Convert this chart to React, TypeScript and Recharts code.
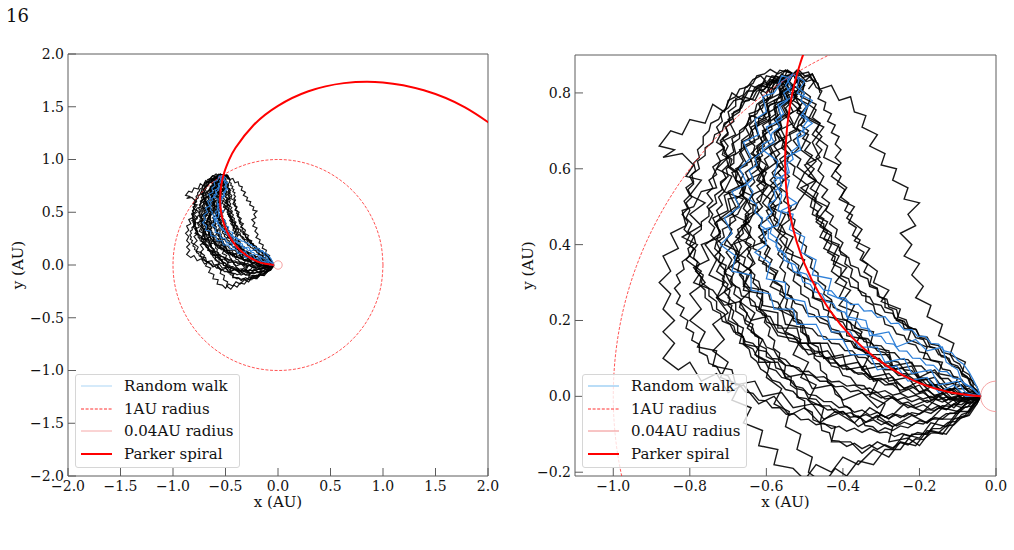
import React from "react";
import { ScatterChart, Scatter, XAxis, YAxis, ReferenceArea, Legend } from "recharts";

type Pt = [number, number];

// Black random-walk traces between the 1 AU footpoint and the 0.04 AU inner boundary
const walk01: Pt[] = [[-0.53,0.85],[-0.55,0.82],[-0.58,0.84],[-0.60,0.80],[-0.64,0.82],[-0.66,0.78],[-0.69,0.80],[-0.71,0.75],[-0.74,0.77],[-0.76,0.72],[-0.80,0.73],[-0.82,0.69],[-0.85,0.70],[-0.88,0.66],[-0.84,0.65],[-0.87,0.63],[-0.82,0.64],[-0.79,0.61],[-0.81,0.58],[-0.77,0.57],[-0.80,0.53],[-0.76,0.51],[-0.80,0.48],[-0.77,0.45],[-0.82,0.42],[-0.78,0.40],[-0.81,0.36],[-0.77,0.33],[-0.79,0.30],[-0.74,0.28],[-0.71,0.24],[-0.67,0.25],[-0.64,0.20],[-0.60,0.21],[-0.57,0.16],[-0.52,0.15],[-0.49,0.11],[-0.44,0.12],[-0.41,0.08],[-0.36,0.09],[-0.33,0.05],[-0.28,0.06],[-0.24,0.02],[-0.20,0.04],[-0.16,0.00],[-0.12,0.02],[-0.08,-0.01],[-0.04,0.00]];
const walk02: Pt[] = [[-0.53,0.85],[-0.56,0.81],[-0.55,0.78],[-0.59,0.77],[-0.61,0.73],[-0.64,0.74],[-0.66,0.70],[-0.69,0.68],[-0.68,0.64],[-0.72,0.62],[-0.74,0.58],[-0.73,0.55],[-0.77,0.54],[-0.79,0.50],[-0.82,0.49],[-0.81,0.45],[-0.85,0.43],[-0.83,0.39],[-0.87,0.37],[-0.85,0.33],[-0.88,0.30],[-0.85,0.27],[-0.87,0.23],[-0.84,0.20],[-0.87,0.17],[-0.84,0.14],[-0.87,0.10],[-0.83,0.07],[-0.80,0.09],[-0.77,0.04],[-0.73,0.06],[-0.70,0.01],[-0.66,0.03],[-0.62,-0.02],[-0.58,0.00],[-0.54,-0.05],[-0.50,-0.03],[-0.46,-0.07],[-0.42,-0.04],[-0.37,-0.07],[-0.33,-0.03],[-0.28,-0.06],[-0.24,-0.02],[-0.19,-0.04],[-0.15,0.00],[-0.11,-0.03],[-0.07,0.01],[-0.04,0.00]];
const walk03: Pt[] = [[-0.53,0.85],[-0.51,0.81],[-0.55,0.79],[-0.53,0.75],[-0.57,0.72],[-0.55,0.68],[-0.59,0.66],[-0.57,0.62],[-0.61,0.59],[-0.60,0.55],[-0.64,0.53],[-0.62,0.49],[-0.66,0.46],[-0.64,0.42],[-0.69,0.40],[-0.67,0.36],[-0.71,0.33],[-0.69,0.29],[-0.73,0.26],[-0.70,0.22],[-0.74,0.19],[-0.71,0.15],[-0.74,0.12],[-0.70,0.09],[-0.72,0.05],[-0.67,0.03],[-0.69,-0.01],[-0.64,-0.03],[-0.66,-0.07],[-0.61,-0.09],[-0.62,-0.13],[-0.57,-0.14],[-0.58,-0.18],[-0.53,-0.19],[-0.50,-0.22],[-0.47,-0.18],[-0.43,-0.20],[-0.40,-0.16],[-0.36,-0.18],[-0.32,-0.14],[-0.28,-0.16],[-0.25,-0.12],[-0.21,-0.13],[-0.18,-0.09],[-0.14,-0.10],[-0.11,-0.06],[-0.08,-0.05],[-0.06,-0.02],[-0.04,0.00]];
const walk04: Pt[] = [[-0.53,0.85],[-0.50,0.83],[-0.48,0.85],[-0.46,0.81],[-0.43,0.82],[-0.41,0.78],[-0.38,0.79],[-0.37,0.75],[-0.34,0.74],[-0.35,0.71],[-0.31,0.69],[-0.33,0.66],[-0.29,0.64],[-0.30,0.61],[-0.26,0.60],[-0.27,0.57],[-0.23,0.55],[-0.24,0.52],[-0.20,0.51],[-0.23,0.48],[-0.21,0.45],[-0.25,0.43],[-0.22,0.40],[-0.24,0.37],[-0.20,0.35],[-0.22,0.32],[-0.19,0.29],[-0.21,0.26],[-0.17,0.24],[-0.18,0.21],[-0.14,0.19],[-0.15,0.16],[-0.11,0.14],[-0.12,0.11],[-0.08,0.09],[-0.09,0.06],[-0.06,0.04],[-0.06,0.01],[-0.04,0.00]];
const walk05: Pt[] = [[-0.53,0.85],[-0.51,0.82],[-0.53,0.79],[-0.49,0.77],[-0.50,0.74],[-0.46,0.72],[-0.48,0.69],[-0.44,0.66],[-0.45,0.63],[-0.41,0.61],[-0.43,0.58],[-0.39,0.55],[-0.41,0.52],[-0.37,0.50],[-0.39,0.47],[-0.35,0.44],[-0.37,0.41],[-0.33,0.39],[-0.35,0.36],[-0.31,0.33],[-0.32,0.30],[-0.28,0.28],[-0.30,0.25],[-0.25,0.23],[-0.26,0.20],[-0.22,0.18],[-0.23,0.15],[-0.18,0.13],[-0.19,0.10],[-0.14,0.09],[-0.15,0.06],[-0.10,0.05],[-0.11,0.02],[-0.07,0.02],[-0.04,0.00]];
const walk06: Pt[] = [[-0.53,0.85],[-0.57,0.83],[-0.56,0.80],[-0.60,0.78],[-0.59,0.74],[-0.63,0.72],[-0.62,0.68],[-0.66,0.66],[-0.64,0.62],[-0.68,0.60],[-0.66,0.56],[-0.70,0.54],[-0.68,0.50],[-0.72,0.47],[-0.69,0.44],[-0.71,0.40],[-0.67,0.38],[-0.69,0.34],[-0.65,0.32],[-0.66,0.28],[-0.61,0.27],[-0.62,0.23],[-0.57,0.22],[-0.57,0.18],[-0.52,0.18],[-0.51,0.14],[-0.46,0.14],[-0.45,0.10],[-0.40,0.11],[-0.39,0.07],[-0.34,0.08],[-0.32,0.04],[-0.27,0.05],[-0.25,0.01],[-0.20,0.03],[-0.17,-0.01],[-0.13,0.01],[-0.10,-0.02],[-0.07,0.01],[-0.04,0.00]];
const walk07: Pt[] = [[-0.53,0.85],[-0.55,0.81],[-0.52,0.79],[-0.55,0.76],[-0.53,0.72],[-0.57,0.70],[-0.55,0.66],[-0.59,0.64],[-0.56,0.60],[-0.59,0.57],[-0.56,0.54],[-0.59,0.50],[-0.55,0.48],[-0.57,0.44],[-0.53,0.42],[-0.55,0.38],[-0.50,0.36],[-0.52,0.32],[-0.47,0.30],[-0.48,0.26],[-0.43,0.25],[-0.44,0.21],[-0.39,0.20],[-0.39,0.16],[-0.34,0.15],[-0.33,0.11],[-0.28,0.11],[-0.27,0.07],[-0.22,0.08],[-0.20,0.04],[-0.16,0.05],[-0.13,0.01],[-0.09,0.03],[-0.06,0.00],[-0.04,0.00]];
const walk08: Pt[] = [[-0.53,0.85],[-0.56,0.82],[-0.54,0.78],[-0.58,0.76],[-0.57,0.72],[-0.61,0.70],[-0.59,0.66],[-0.63,0.63],[-0.61,0.59],[-0.65,0.57],[-0.66,0.53],[-0.70,0.52],[-0.69,0.48],[-0.73,0.46],[-0.72,0.42],[-0.77,0.40],[-0.75,0.36],[-0.79,0.34],[-0.76,0.30],[-0.80,0.27],[-0.77,0.23],[-0.80,0.20],[-0.76,0.17],[-0.78,0.13],[-0.73,0.12],[-0.74,0.08],[-0.69,0.07],[-0.68,0.03],[-0.63,0.04],[-0.61,0.00],[-0.56,0.01],[-0.53,-0.03],[-0.48,-0.02],[-0.45,-0.06],[-0.40,-0.04],[-0.36,-0.08],[-0.31,-0.05],[-0.27,-0.08],[-0.22,-0.05],[-0.18,-0.07],[-0.14,-0.03],[-0.10,-0.04],[-0.07,-0.01],[-0.04,0.00]];
const walk09: Pt[] = [[-0.53,0.85],[-0.50,0.82],[-0.53,0.80],[-0.51,0.76],[-0.55,0.74],[-0.52,0.70],[-0.56,0.68],[-0.53,0.64],[-0.57,0.61],[-0.54,0.58],[-0.58,0.55],[-0.56,0.51],[-0.60,0.49],[-0.58,0.45],[-0.62,0.42],[-0.59,0.39],[-0.61,0.35],[-0.57,0.33],[-0.59,0.29],[-0.55,0.27],[-0.57,0.23],[-0.53,0.21],[-0.55,0.17],[-0.51,0.15],[-0.53,0.11],[-0.49,0.09],[-0.51,0.05],[-0.47,0.03],[-0.49,-0.01],[-0.45,-0.03],[-0.46,-0.07],[-0.42,-0.08],[-0.43,-0.12],[-0.38,-0.12],[-0.35,-0.15],[-0.31,-0.12],[-0.27,-0.14],[-0.24,-0.10],[-0.20,-0.11],[-0.17,-0.07],[-0.13,-0.08],[-0.10,-0.04],[-0.07,-0.04],[-0.04,0.00]];
const walk10: Pt[] = [[-0.53,0.85],[-0.56,0.84],[-0.58,0.81],[-0.61,0.82],[-0.63,0.78],[-0.66,0.79],[-0.67,0.75],[-0.70,0.73],[-0.68,0.69],[-0.72,0.67],[-0.70,0.63],[-0.73,0.60],[-0.69,0.58],[-0.71,0.54],[-0.66,0.52],[-0.69,0.48],[-0.65,0.46],[-0.68,0.42],[-0.64,0.40],[-0.68,0.36],[-0.64,0.33],[-0.66,0.29],[-0.61,0.28],[-0.61,0.24],[-0.56,0.23],[-0.55,0.19],[-0.50,0.18],[-0.49,0.14],[-0.44,0.14],[-0.42,0.10],[-0.37,0.11],[-0.35,0.07],[-0.30,0.08],[-0.28,0.04],[-0.23,0.05],[-0.20,0.01],[-0.16,0.03],[-0.12,-0.01],[-0.08,0.01],[-0.04,0.00]];
const walk11: Pt[] = [[-0.53,0.85],[-0.50,0.83],[-0.51,0.79],[-0.47,0.77],[-0.49,0.73],[-0.45,0.71],[-0.48,0.67],[-0.46,0.63],[-0.50,0.61],[-0.47,0.57],[-0.51,0.55],[-0.47,0.52],[-0.48,0.48],[-0.44,0.46],[-0.46,0.42],[-0.41,0.40],[-0.43,0.36],[-0.39,0.34],[-0.42,0.30],[-0.38,0.28],[-0.41,0.24],[-0.36,0.22],[-0.37,0.18],[-0.32,0.17],[-0.33,0.13],[-0.28,0.12],[-0.27,0.08],[-0.22,0.09],[-0.20,0.05],[-0.16,0.07],[-0.13,0.03],[-0.09,0.04],[-0.07,0.01],[-0.04,0.00]];
const walk12: Pt[] = [[-0.53,0.85],[-0.55,0.82],[-0.58,0.83],[-0.59,0.79],[-0.62,0.77],[-0.60,0.73],[-0.64,0.71],[-0.63,0.67],[-0.67,0.65],[-0.65,0.61],[-0.69,0.59],[-0.67,0.55],[-0.71,0.53],[-0.70,0.49],[-0.74,0.47],[-0.72,0.43],[-0.76,0.40],[-0.73,0.36],[-0.75,0.32],[-0.71,0.30],[-0.73,0.26],[-0.69,0.24],[-0.70,0.20],[-0.66,0.18],[-0.67,0.14],[-0.62,0.13],[-0.62,0.09],[-0.57,0.09],[-0.55,0.05],[-0.50,0.06],[-0.48,0.02],[-0.43,0.03],[-0.40,-0.01],[-0.35,0.01],[-0.31,-0.03],[-0.27,0.00],[-0.23,-0.03],[-0.18,-0.01],[-0.14,-0.03],[-0.10,0.00],[-0.07,-0.02],[-0.04,0.00]];
const walk13: Pt[] = [[-0.53,0.85],[-0.51,0.81],[-0.54,0.78],[-0.51,0.75],[-0.53,0.71],[-0.49,0.69],[-0.51,0.65],[-0.47,0.62],[-0.50,0.59],[-0.46,0.56],[-0.48,0.52],[-0.44,0.50],[-0.47,0.46],[-0.43,0.43],[-0.45,0.39],[-0.41,0.37],[-0.43,0.33],[-0.39,0.30],[-0.41,0.26],[-0.37,0.24],[-0.39,0.20],[-0.35,0.17],[-0.37,0.13],[-0.33,0.11],[-0.35,0.07],[-0.31,0.04],[-0.33,0.00],[-0.29,-0.02],[-0.31,-0.06],[-0.27,-0.08],[-0.28,-0.12],[-0.23,-0.11],[-0.20,-0.13],[-0.17,-0.09],[-0.13,-0.10],[-0.10,-0.06],[-0.07,-0.05],[-0.05,-0.02],[-0.04,0.00]];
const walk14: Pt[] = [[-0.53,0.85],[-0.57,0.82],[-0.56,0.79],[-0.60,0.77],[-0.59,0.73],[-0.63,0.71],[-0.61,0.67],[-0.64,0.64],[-0.60,0.61],[-0.62,0.57],[-0.58,0.55],[-0.61,0.51],[-0.58,0.48],[-0.62,0.45],[-0.60,0.41],[-0.65,0.39],[-0.63,0.35],[-0.67,0.32],[-0.64,0.28],[-0.67,0.25],[-0.63,0.22],[-0.65,0.18],[-0.61,0.15],[-0.63,0.11],[-0.59,0.09],[-0.60,0.05],[-0.56,0.02],[-0.58,-0.02],[-0.54,-0.04],[-0.55,-0.08],[-0.51,-0.10],[-0.52,-0.14],[-0.48,-0.16],[-0.49,-0.20],[-0.45,-0.23],[-0.42,-0.19],[-0.39,-0.21],[-0.36,-0.17],[-0.32,-0.18],[-0.29,-0.14],[-0.25,-0.14],[-0.22,-0.10],[-0.18,-0.10],[-0.15,-0.06],[-0.11,-0.06],[-0.08,-0.02],[-0.04,0.00]];

// Finer-step walks filling the dense core of the band; several start across the rounded cap
const walk15: Pt[] = [[-0.64,0.79],[-0.63,0.815],[-0.61,0.825],[-0.60,0.845],[-0.58,0.84],[-0.565,0.86],[-0.545,0.855],[-0.53,0.85],[-0.545,0.84],[-0.56,0.85],[-0.575,0.83],[-0.59,0.835],[-0.60,0.815],[-0.615,0.80],[-0.605,0.785],[-0.625,0.77],[-0.63,0.75],[-0.645,0.745],[-0.64,0.725],[-0.655,0.71],[-0.645,0.69],[-0.665,0.675],[-0.655,0.655],[-0.67,0.64],[-0.66,0.62],[-0.675,0.60],[-0.66,0.585],[-0.67,0.565],[-0.655,0.55],[-0.665,0.53],[-0.65,0.515],[-0.66,0.495],[-0.645,0.48],[-0.655,0.46],[-0.64,0.445],[-0.645,0.425],[-0.63,0.41],[-0.635,0.39],[-0.615,0.38],[-0.62,0.36],[-0.60,0.35],[-0.60,0.33],[-0.58,0.32],[-0.58,0.30],[-0.56,0.29],[-0.555,0.27],[-0.535,0.265],[-0.525,0.245],[-0.505,0.24],[-0.495,0.22],[-0.475,0.215],[-0.46,0.195],[-0.44,0.19],[-0.43,0.17],[-0.41,0.165],[-0.395,0.145],[-0.375,0.145],[-0.36,0.125],[-0.34,0.12],[-0.325,0.10],[-0.305,0.10],[-0.29,0.08],[-0.27,0.08],[-0.255,0.06],[-0.235,0.06],[-0.215,0.045],[-0.195,0.045],[-0.18,0.03],[-0.16,0.03],[-0.14,0.015],[-0.12,0.02],[-0.10,0.005],[-0.08,0.01],[-0.06,-0.005],[-0.04,0.00]];
const walk16: Pt[] = [[-0.46,0.80],[-0.465,0.825],[-0.48,0.835],[-0.49,0.855],[-0.51,0.85],[-0.53,0.85],[-0.515,0.835],[-0.53,0.82],[-0.51,0.805],[-0.525,0.79],[-0.505,0.775],[-0.52,0.755],[-0.50,0.745],[-0.515,0.725],[-0.52,0.705],[-0.54,0.695],[-0.535,0.675],[-0.555,0.66],[-0.545,0.64],[-0.565,0.625],[-0.555,0.605],[-0.57,0.59],[-0.555,0.57],[-0.565,0.55],[-0.545,0.535],[-0.555,0.515],[-0.535,0.50],[-0.545,0.48],[-0.525,0.465],[-0.53,0.445],[-0.51,0.43],[-0.515,0.41],[-0.495,0.395],[-0.50,0.375],[-0.48,0.36],[-0.485,0.34],[-0.465,0.325],[-0.465,0.305],[-0.445,0.29],[-0.45,0.27],[-0.43,0.255],[-0.425,0.235],[-0.405,0.225],[-0.40,0.205],[-0.38,0.195],[-0.375,0.175],[-0.355,0.165],[-0.345,0.145],[-0.325,0.14],[-0.31,0.12],[-0.29,0.115],[-0.275,0.095],[-0.255,0.09],[-0.24,0.07],[-0.22,0.068],[-0.205,0.05],[-0.185,0.048],[-0.17,0.03],[-0.15,0.03],[-0.13,0.015],[-0.11,0.018],[-0.09,0.003],[-0.07,0.008],[-0.055,-0.005],[-0.04,0.00]];
const walk17: Pt[] = [[-0.53,0.85],[-0.55,0.845],[-0.565,0.83],[-0.585,0.835],[-0.60,0.815],[-0.62,0.82],[-0.635,0.80],[-0.645,0.78],[-0.665,0.775],[-0.67,0.755],[-0.69,0.745],[-0.685,0.725],[-0.705,0.71],[-0.70,0.69],[-0.72,0.675],[-0.71,0.655],[-0.73,0.64],[-0.72,0.62],[-0.74,0.605],[-0.73,0.585],[-0.75,0.57],[-0.74,0.55],[-0.755,0.535],[-0.74,0.515],[-0.755,0.50],[-0.74,0.48],[-0.75,0.46],[-0.735,0.445],[-0.745,0.425],[-0.73,0.41],[-0.735,0.39],[-0.72,0.375],[-0.725,0.355],[-0.705,0.345],[-0.71,0.325],[-0.69,0.315],[-0.69,0.295],[-0.67,0.285],[-0.665,0.265],[-0.645,0.26],[-0.64,0.24],[-0.62,0.235],[-0.61,0.215],[-0.59,0.21],[-0.58,0.19],[-0.56,0.185],[-0.55,0.165],[-0.53,0.16],[-0.515,0.14],[-0.495,0.14],[-0.48,0.12],[-0.46,0.118],[-0.445,0.10],[-0.425,0.098],[-0.41,0.08],[-0.39,0.08],[-0.37,0.062],[-0.35,0.062],[-0.33,0.045],[-0.31,0.046],[-0.29,0.03],[-0.27,0.032],[-0.25,0.016],[-0.23,0.02],[-0.21,0.005],[-0.19,0.01],[-0.17,-0.004],[-0.15,0.002],[-0.13,-0.01],[-0.11,-0.003],[-0.09,-0.012],[-0.07,-0.004],[-0.055,-0.01],[-0.04,0.00]];
const walk18: Pt[] = [[-0.59,0.80],[-0.60,0.825],[-0.585,0.845],[-0.565,0.84],[-0.55,0.86],[-0.53,0.85],[-0.54,0.83],[-0.525,0.815],[-0.545,0.80],[-0.535,0.78],[-0.555,0.765],[-0.545,0.745],[-0.565,0.73],[-0.56,0.71],[-0.58,0.695],[-0.575,0.675],[-0.595,0.66],[-0.585,0.64],[-0.605,0.625],[-0.595,0.605],[-0.615,0.59],[-0.605,0.57],[-0.625,0.555],[-0.61,0.535],[-0.625,0.52],[-0.61,0.50],[-0.625,0.485],[-0.61,0.465],[-0.62,0.445],[-0.60,0.43],[-0.615,0.41],[-0.595,0.395],[-0.605,0.375],[-0.585,0.36],[-0.595,0.34],[-0.575,0.325],[-0.58,0.305],[-0.56,0.29],[-0.565,0.27],[-0.545,0.255],[-0.55,0.235],[-0.53,0.22],[-0.53,0.20],[-0.51,0.19],[-0.51,0.17],[-0.49,0.16],[-0.485,0.14],[-0.465,0.13],[-0.46,0.11],[-0.44,0.10],[-0.43,0.08],[-0.41,0.075],[-0.40,0.055],[-0.38,0.05],[-0.365,0.03],[-0.345,0.028],[-0.33,0.01],[-0.31,0.01],[-0.29,-0.007],[-0.27,-0.004],[-0.25,-0.02],[-0.23,-0.015],[-0.21,-0.03],[-0.19,-0.022],[-0.17,-0.035],[-0.15,-0.025],[-0.13,-0.035],[-0.11,-0.022],[-0.09,-0.03],[-0.07,-0.015],[-0.055,-0.018],[-0.04,0.00]];
const walk19: Pt[] = [[-0.53,0.85],[-0.55,0.835],[-0.545,0.815],[-0.565,0.80],[-0.56,0.78],[-0.58,0.765],[-0.575,0.745],[-0.595,0.73],[-0.59,0.71],[-0.61,0.695],[-0.605,0.675],[-0.625,0.66],[-0.62,0.64],[-0.64,0.625],[-0.635,0.605],[-0.655,0.59],[-0.645,0.57],[-0.665,0.555],[-0.66,0.535],[-0.68,0.52],[-0.67,0.50],[-0.69,0.485],[-0.68,0.465],[-0.70,0.45],[-0.69,0.43],[-0.705,0.415],[-0.69,0.395],[-0.705,0.38],[-0.69,0.36],[-0.70,0.34],[-0.685,0.325],[-0.695,0.305],[-0.68,0.29],[-0.685,0.27],[-0.665,0.255],[-0.67,0.235],[-0.65,0.22],[-0.655,0.20],[-0.635,0.19],[-0.64,0.17],[-0.62,0.155],[-0.62,0.135],[-0.60,0.125],[-0.60,0.105],[-0.58,0.095],[-0.575,0.075],[-0.555,0.068],[-0.55,0.048],[-0.53,0.04],[-0.52,0.02],[-0.50,0.015],[-0.49,-0.005],[-0.47,-0.008],[-0.455,-0.025],[-0.435,-0.025],[-0.42,-0.042],[-0.40,-0.04],[-0.38,-0.055],[-0.36,-0.052],[-0.34,-0.068],[-0.32,-0.062],[-0.30,-0.075],[-0.28,-0.066],[-0.26,-0.078],[-0.24,-0.068],[-0.22,-0.076],[-0.20,-0.064],[-0.18,-0.07],[-0.16,-0.056],[-0.14,-0.06],[-0.12,-0.044],[-0.10,-0.045],[-0.08,-0.028],[-0.06,-0.025],[-0.04,0.00]];
const walk20: Pt[] = [[-0.47,0.83],[-0.48,0.85],[-0.50,0.845],[-0.515,0.86],[-0.53,0.85],[-0.515,0.84],[-0.50,0.825],[-0.505,0.805],[-0.485,0.79],[-0.49,0.77],[-0.47,0.755],[-0.48,0.735],[-0.46,0.72],[-0.47,0.70],[-0.455,0.685],[-0.47,0.665],[-0.455,0.65],[-0.47,0.63],[-0.455,0.615],[-0.465,0.595],[-0.45,0.58],[-0.46,0.56],[-0.44,0.545],[-0.455,0.525],[-0.435,0.51],[-0.445,0.49],[-0.425,0.475],[-0.435,0.455],[-0.415,0.44],[-0.42,0.42],[-0.40,0.405],[-0.41,0.385],[-0.39,0.37],[-0.395,0.35],[-0.375,0.335],[-0.38,0.315],[-0.36,0.30],[-0.36,0.28],[-0.34,0.27],[-0.34,0.25],[-0.32,0.24],[-0.315,0.22],[-0.295,0.21],[-0.29,0.19],[-0.27,0.183],[-0.26,0.165],[-0.24,0.16],[-0.23,0.14],[-0.21,0.135],[-0.20,0.117],[-0.18,0.113],[-0.17,0.095],[-0.15,0.09],[-0.14,0.072],[-0.12,0.068],[-0.11,0.05],[-0.09,0.045],[-0.08,0.028],[-0.06,0.022],[-0.05,0.008],[-0.04,0.00]];
const walk21: Pt[] = [[-0.53,0.85],[-0.55,0.84],[-0.57,0.825],[-0.59,0.83],[-0.605,0.81],[-0.625,0.805],[-0.635,0.785],[-0.655,0.78],[-0.665,0.76],[-0.685,0.75],[-0.69,0.73],[-0.71,0.72],[-0.715,0.70],[-0.735,0.69],[-0.74,0.67],[-0.76,0.655],[-0.76,0.635],[-0.78,0.62],[-0.775,0.60],[-0.795,0.585],[-0.79,0.565],[-0.81,0.55],[-0.80,0.53],[-0.815,0.515],[-0.805,0.495],[-0.82,0.48],[-0.805,0.46],[-0.815,0.44],[-0.80,0.425],[-0.81,0.405],[-0.79,0.39],[-0.80,0.37],[-0.78,0.355],[-0.785,0.335],[-0.765,0.32],[-0.77,0.30],[-0.75,0.285],[-0.75,0.265],[-0.73,0.25],[-0.73,0.23],[-0.71,0.218],[-0.705,0.198],[-0.685,0.185],[-0.68,0.165],[-0.66,0.155],[-0.655,0.135],[-0.635,0.125],[-0.625,0.105],[-0.605,0.095],[-0.595,0.075],[-0.575,0.068],[-0.56,0.05],[-0.54,0.045],[-0.525,0.027],[-0.505,0.022],[-0.49,0.005],[-0.47,0.002],[-0.45,-0.014],[-0.43,-0.014],[-0.41,-0.03],[-0.39,-0.027],[-0.37,-0.042],[-0.35,-0.036],[-0.33,-0.05],[-0.31,-0.042],[-0.29,-0.055],[-0.27,-0.045],[-0.25,-0.056],[-0.23,-0.044],[-0.21,-0.052],[-0.19,-0.039],[-0.17,-0.045],[-0.15,-0.031],[-0.13,-0.035],[-0.11,-0.02],[-0.09,-0.022],[-0.07,-0.008],[-0.055,-0.01],[-0.04,0.00]];
const walk22: Pt[] = [[-0.62,0.81],[-0.605,0.83],[-0.59,0.82],[-0.575,0.845],[-0.555,0.835],[-0.545,0.86],[-0.53,0.85],[-0.545,0.835],[-0.535,0.815],[-0.555,0.80],[-0.55,0.78],[-0.57,0.765],[-0.565,0.745],[-0.58,0.73],[-0.565,0.71],[-0.575,0.69],[-0.555,0.675],[-0.56,0.655],[-0.54,0.64],[-0.545,0.62],[-0.525,0.605],[-0.53,0.585],[-0.51,0.57],[-0.52,0.55],[-0.50,0.535],[-0.515,0.515],[-0.525,0.495],[-0.545,0.485],[-0.54,0.465],[-0.56,0.45],[-0.55,0.43],[-0.565,0.415],[-0.55,0.395],[-0.56,0.375],[-0.54,0.36],[-0.545,0.34],[-0.525,0.325],[-0.53,0.305],[-0.51,0.29],[-0.51,0.27],[-0.49,0.258],[-0.485,0.238],[-0.465,0.228],[-0.46,0.208],[-0.44,0.198],[-0.43,0.178],[-0.41,0.172],[-0.40,0.152],[-0.38,0.146],[-0.37,0.128],[-0.35,0.124],[-0.335,0.106],[-0.315,0.104],[-0.30,0.088],[-0.28,0.088],[-0.265,0.072],[-0.245,0.074],[-0.23,0.058],[-0.21,0.06],[-0.195,0.044],[-0.175,0.046],[-0.16,0.03],[-0.14,0.034],[-0.125,0.018],[-0.105,0.022],[-0.09,0.006],[-0.07,0.01],[-0.055,-0.003],[-0.04,0.00]];
const walk23: Pt[] = [[-0.53,0.85],[-0.55,0.83],[-0.54,0.81],[-0.56,0.795],[-0.555,0.775],[-0.575,0.76],[-0.57,0.74],[-0.59,0.725],[-0.585,0.705],[-0.605,0.69],[-0.60,0.67],[-0.62,0.655],[-0.61,0.635],[-0.63,0.62],[-0.62,0.60],[-0.64,0.585],[-0.63,0.565],[-0.645,0.55],[-0.635,0.53],[-0.65,0.515],[-0.64,0.495],[-0.655,0.48],[-0.645,0.46],[-0.66,0.445],[-0.645,0.425],[-0.655,0.405],[-0.64,0.39],[-0.65,0.37],[-0.635,0.355],[-0.645,0.335],[-0.63,0.32],[-0.635,0.30],[-0.62,0.285],[-0.625,0.265],[-0.61,0.25],[-0.615,0.23],[-0.60,0.215],[-0.605,0.195],[-0.59,0.18],[-0.595,0.16],[-0.578,0.147],[-0.582,0.127],[-0.565,0.114],[-0.568,0.094],[-0.55,0.082],[-0.553,0.062],[-0.535,0.05],[-0.537,0.03],[-0.52,0.018],[-0.52,-0.002],[-0.50,-0.012],[-0.50,-0.032],[-0.48,-0.042],[-0.478,-0.062],[-0.458,-0.07],[-0.455,-0.09],[-0.435,-0.096],[-0.43,-0.116],[-0.41,-0.118],[-0.39,-0.132],[-0.37,-0.124],[-0.35,-0.138],[-0.33,-0.128],[-0.31,-0.14],[-0.29,-0.128],[-0.27,-0.136],[-0.25,-0.122],[-0.23,-0.128],[-0.21,-0.112],[-0.19,-0.114],[-0.17,-0.097],[-0.15,-0.096],[-0.13,-0.078],[-0.11,-0.075],[-0.09,-0.056],[-0.075,-0.05],[-0.06,-0.03],[-0.05,-0.02],[-0.04,0.00]];
const walk24: Pt[] = [[-0.53,0.85],[-0.55,0.84],[-0.56,0.82],[-0.58,0.81],[-0.585,0.79],[-0.605,0.78],[-0.61,0.76],[-0.63,0.75],[-0.63,0.73],[-0.645,0.715],[-0.635,0.695],[-0.645,0.675],[-0.63,0.66],[-0.635,0.64],[-0.615,0.625],[-0.62,0.605],[-0.60,0.59],[-0.61,0.57],[-0.595,0.555],[-0.61,0.535],[-0.615,0.515],[-0.635,0.505],[-0.635,0.485],[-0.655,0.475],[-0.655,0.455],[-0.675,0.44],[-0.67,0.42],[-0.685,0.405],[-0.675,0.385],[-0.685,0.365],[-0.67,0.35],[-0.675,0.33],[-0.66,0.315],[-0.66,0.295],[-0.645,0.28],[-0.645,0.26],[-0.63,0.247],[-0.625,0.227],[-0.605,0.216],[-0.60,0.196],[-0.58,0.188],[-0.57,0.17],[-0.55,0.164],[-0.54,0.146],[-0.52,0.142],[-0.505,0.125],[-0.485,0.122],[-0.47,0.106],[-0.45,0.104],[-0.435,0.088],[-0.415,0.088],[-0.40,0.072],[-0.38,0.073],[-0.36,0.058],[-0.34,0.06],[-0.32,0.045],[-0.30,0.048],[-0.28,0.033],[-0.26,0.036],[-0.24,0.022],[-0.22,0.026],[-0.20,0.012],[-0.18,0.016],[-0.16,0.003],[-0.14,0.008],[-0.12,-0.004],[-0.10,0.002],[-0.08,-0.008],[-0.06,0.0],[-0.04,0.00]];
const walk25: Pt[] = [[-0.49,0.81],[-0.475,0.83],[-0.49,0.845],[-0.505,0.84],[-0.52,0.86],[-0.53,0.85],[-0.51,0.835],[-0.52,0.815],[-0.50,0.80],[-0.51,0.78],[-0.495,0.765],[-0.51,0.745],[-0.50,0.725],[-0.52,0.71],[-0.51,0.69],[-0.53,0.675],[-0.515,0.655],[-0.53,0.64],[-0.51,0.625],[-0.52,0.605],[-0.50,0.59],[-0.51,0.57],[-0.49,0.555],[-0.50,0.535],[-0.48,0.52],[-0.485,0.50],[-0.465,0.487],[-0.47,0.467],[-0.45,0.455],[-0.45,0.435],[-0.43,0.424],[-0.43,0.404],[-0.41,0.394],[-0.405,0.374],[-0.385,0.366],[-0.38,0.346],[-0.36,0.338],[-0.355,0.318],[-0.335,0.31],[-0.33,0.29],[-0.31,0.283],[-0.305,0.263],[-0.285,0.256],[-0.28,0.236],[-0.26,0.229],[-0.255,0.209],[-0.235,0.202],[-0.228,0.182],[-0.208,0.176],[-0.20,0.156],[-0.18,0.15],[-0.172,0.13],[-0.152,0.125],[-0.143,0.105],[-0.123,0.1],[-0.115,0.08],[-0.095,0.074],[-0.088,0.054],[-0.07,0.046],[-0.064,0.026],[-0.05,0.016],[-0.04,0.00]];
const walk26: Pt[] = [[-0.53,0.85],[-0.55,0.86],[-0.57,0.85],[-0.59,0.862],[-0.605,0.85],[-0.625,0.845],[-0.635,0.825],[-0.655,0.815],[-0.66,0.795],[-0.68,0.785],[-0.68,0.765],[-0.70,0.75],[-0.695,0.73],[-0.71,0.715],[-0.70,0.695],[-0.715,0.68],[-0.70,0.66],[-0.71,0.64],[-0.69,0.625],[-0.695,0.605],[-0.675,0.59],[-0.68,0.57],[-0.66,0.555],[-0.67,0.535],[-0.65,0.52],[-0.665,0.50],[-0.675,0.48],[-0.695,0.47],[-0.695,0.45],[-0.715,0.44],[-0.71,0.42],[-0.73,0.405],[-0.72,0.385],[-0.735,0.37],[-0.72,0.35],[-0.73,0.33],[-0.71,0.315],[-0.715,0.295],[-0.695,0.28],[-0.70,0.26],[-0.68,0.245],[-0.68,0.225],[-0.66,0.212],[-0.655,0.192],[-0.635,0.18],[-0.63,0.16],[-0.61,0.15],[-0.60,0.13],[-0.58,0.122],[-0.57,0.104],[-0.55,0.097],[-0.535,0.08],[-0.515,0.075],[-0.50,0.058],[-0.48,0.055],[-0.46,0.04],[-0.44,0.04],[-0.42,0.025],[-0.40,0.027],[-0.38,0.012],[-0.36,0.016],[-0.34,0.003],[-0.32,0.008],[-0.30,-0.004],[-0.28,0.002],[-0.26,-0.01],[-0.24,-0.003],[-0.22,-0.014],[-0.20,-0.006],[-0.18,-0.016],[-0.16,-0.007],[-0.14,-0.015],[-0.12,-0.005],[-0.10,-0.012],[-0.08,-0.002],[-0.06,-0.006],[-0.04,0.00]];
const walk27: Pt[] = [[-0.53,0.85],[-0.55,0.835],[-0.57,0.84],[-0.59,0.82],[-0.61,0.825],[-0.63,0.805],[-0.65,0.805],[-0.665,0.785],[-0.685,0.78],[-0.70,0.76],[-0.715,0.75],[-0.725,0.73],[-0.745,0.72],[-0.75,0.70],[-0.765,0.685],[-0.765,0.665],[-0.78,0.65],[-0.775,0.63],[-0.79,0.615],[-0.785,0.595],[-0.80,0.58],[-0.79,0.56],[-0.805,0.545],[-0.795,0.525],[-0.81,0.51],[-0.80,0.49],[-0.81,0.47],[-0.795,0.455],[-0.805,0.435],[-0.79,0.42],[-0.80,0.40],[-0.785,0.385],[-0.79,0.365],[-0.775,0.35],[-0.785,0.33],[-0.77,0.315],[-0.775,0.295],[-0.76,0.28],[-0.76,0.26],[-0.745,0.248],[-0.74,0.228],[-0.72,0.218],[-0.715,0.198],[-0.695,0.19],[-0.685,0.17],[-0.665,0.164],[-0.655,0.145],[-0.635,0.14],[-0.62,0.122],[-0.60,0.118],[-0.585,0.10],[-0.565,0.098],[-0.55,0.082],[-0.53,0.08],[-0.51,0.065],[-0.49,0.066],[-0.47,0.05],[-0.45,0.052],[-0.43,0.038],[-0.41,0.04],[-0.39,0.027],[-0.37,0.03],[-0.35,0.018],[-0.33,0.022],[-0.31,0.01],[-0.29,0.015],[-0.27,0.003],[-0.25,0.008],[-0.23,-0.003],[-0.21,0.003],[-0.19,-0.007],[-0.17,0.0],[-0.15,-0.009],[-0.13,-0.002],[-0.11,-0.01],[-0.09,-0.003],[-0.07,-0.009],[-0.055,-0.002],[-0.04,0.00]];
const walk28: Pt[] = [[-0.53,0.85],[-0.51,0.845],[-0.495,0.83],[-0.48,0.835],[-0.47,0.815],[-0.455,0.805],[-0.465,0.785],[-0.445,0.775],[-0.45,0.755],[-0.43,0.745],[-0.44,0.725],[-0.42,0.715],[-0.43,0.695],[-0.41,0.685],[-0.42,0.665],[-0.405,0.65],[-0.42,0.63],[-0.405,0.615],[-0.42,0.595],[-0.405,0.58],[-0.415,0.56],[-0.395,0.545],[-0.405,0.525],[-0.385,0.51],[-0.395,0.49],[-0.375,0.478],[-0.385,0.458],[-0.365,0.445],[-0.375,0.425],[-0.355,0.412],[-0.365,0.392],[-0.345,0.38],[-0.355,0.36],[-0.335,0.348],[-0.345,0.328],[-0.325,0.315],[-0.33,0.295],[-0.31,0.285],[-0.31,0.265],[-0.29,0.255],[-0.29,0.235],[-0.27,0.227],[-0.265,0.207],[-0.245,0.2],[-0.24,0.18],[-0.22,0.174],[-0.21,0.155],[-0.19,0.15],[-0.18,0.132],[-0.16,0.128],[-0.15,0.11],[-0.13,0.105],[-0.12,0.087],[-0.10,0.08],[-0.09,0.062],[-0.075,0.052],[-0.068,0.033],[-0.055,0.02],[-0.04,0.00]];
const walk29: Pt[] = [[-0.53,0.85],[-0.55,0.84],[-0.545,0.82],[-0.565,0.81],[-0.56,0.79],[-0.58,0.78],[-0.575,0.76],[-0.595,0.748],[-0.59,0.728],[-0.61,0.715],[-0.60,0.695],[-0.615,0.68],[-0.605,0.66],[-0.625,0.645],[-0.615,0.625],[-0.63,0.61],[-0.615,0.59],[-0.625,0.57],[-0.605,0.555],[-0.61,0.535],[-0.59,0.52],[-0.595,0.50],[-0.575,0.485],[-0.58,0.465],[-0.56,0.45],[-0.565,0.43],[-0.545,0.415],[-0.55,0.395],[-0.53,0.38],[-0.535,0.36],[-0.515,0.345],[-0.52,0.325],[-0.50,0.31],[-0.50,0.29],[-0.48,0.278],[-0.475,0.258],[-0.455,0.25],[-0.45,0.23],[-0.43,0.222],[-0.42,0.202],[-0.40,0.196],[-0.39,0.178],[-0.37,0.172],[-0.355,0.155],[-0.335,0.152],[-0.32,0.135],[-0.30,0.133],[-0.285,0.116],[-0.265,0.115],[-0.25,0.098],[-0.23,0.097],[-0.215,0.08],[-0.195,0.08],[-0.18,0.064],[-0.16,0.063],[-0.145,0.047],[-0.125,0.047],[-0.11,0.031],[-0.09,0.03],[-0.075,0.015],[-0.058,0.012],[-0.04,0.00]];
const walk30: Pt[] = [[-0.53,0.85],[-0.55,0.83],[-0.57,0.835],[-0.585,0.815],[-0.60,0.80],[-0.595,0.78],[-0.615,0.765],[-0.625,0.745],[-0.645,0.735],[-0.65,0.715],[-0.67,0.70],[-0.67,0.68],[-0.69,0.665],[-0.685,0.645],[-0.705,0.63],[-0.70,0.61],[-0.715,0.595],[-0.705,0.575],[-0.72,0.56],[-0.71,0.54],[-0.725,0.525],[-0.715,0.505],[-0.73,0.49],[-0.72,0.47],[-0.735,0.455],[-0.72,0.435],[-0.73,0.415],[-0.715,0.40],[-0.725,0.38],[-0.71,0.365],[-0.72,0.345],[-0.705,0.33],[-0.715,0.31],[-0.70,0.295],[-0.71,0.275],[-0.695,0.26],[-0.70,0.24],[-0.685,0.225],[-0.69,0.205],[-0.675,0.19],[-0.675,0.17],[-0.66,0.157],[-0.66,0.137],[-0.645,0.124],[-0.64,0.104],[-0.625,0.092],[-0.615,0.072],[-0.60,0.062],[-0.585,0.043],[-0.565,0.036],[-0.55,0.018],[-0.53,0.013],[-0.515,-0.003],[-0.495,-0.006],[-0.48,-0.021],[-0.46,-0.022],[-0.44,-0.036],[-0.42,-0.034],[-0.40,-0.047],[-0.38,-0.043],[-0.36,-0.055],[-0.34,-0.048],[-0.32,-0.058],[-0.30,-0.05],[-0.28,-0.058],[-0.26,-0.048],[-0.24,-0.054],[-0.22,-0.043],[-0.20,-0.047],[-0.18,-0.035],[-0.16,-0.037],[-0.14,-0.025],[-0.12,-0.026],[-0.10,-0.014],[-0.08,-0.014],[-0.06,-0.004],[-0.04,0.00]];
const walk31: Pt[] = [[-0.60,0.83],[-0.615,0.845],[-0.635,0.835],[-0.65,0.815],[-0.67,0.81],[-0.68,0.79],[-0.70,0.78],[-0.705,0.76],[-0.72,0.745],[-0.715,0.725],[-0.73,0.71],[-0.72,0.69],[-0.73,0.67],[-0.71,0.657],[-0.715,0.637],[-0.695,0.625],[-0.70,0.605],[-0.68,0.59],[-0.68,0.57],[-0.66,0.56],[-0.66,0.54],[-0.64,0.53],[-0.645,0.51],[-0.625,0.50],[-0.635,0.48],[-0.645,0.46],[-0.665,0.45],[-0.66,0.43],[-0.675,0.415],[-0.665,0.395],[-0.675,0.375],[-0.655,0.365],[-0.66,0.345],[-0.64,0.333],[-0.64,0.313],[-0.62,0.303],[-0.615,0.283],[-0.595,0.275],[-0.59,0.255],[-0.57,0.248],[-0.56,0.23],[-0.54,0.224],[-0.53,0.206],[-0.51,0.2],[-0.50,0.182],[-0.48,0.178],[-0.465,0.16],[-0.445,0.157],[-0.43,0.14],[-0.41,0.138],[-0.395,0.121],[-0.375,0.12],[-0.36,0.103],[-0.34,0.102],[-0.325,0.086],[-0.305,0.086],[-0.29,0.07],[-0.27,0.07],[-0.255,0.055],[-0.235,0.056],[-0.22,0.041],[-0.20,0.042],[-0.185,0.028],[-0.165,0.03],[-0.15,0.016],[-0.13,0.018],[-0.115,0.005],[-0.095,0.009],[-0.08,-0.003],[-0.06,0.002],[-0.04,0.00]];
const walk32: Pt[] = [[-0.53,0.85],[-0.545,0.83],[-0.53,0.815],[-0.55,0.80],[-0.54,0.78],[-0.56,0.765],[-0.55,0.745],[-0.57,0.73],[-0.56,0.71],[-0.575,0.695],[-0.565,0.675],[-0.58,0.66],[-0.565,0.64],[-0.58,0.625],[-0.57,0.605],[-0.585,0.59],[-0.575,0.57],[-0.59,0.555],[-0.58,0.535],[-0.59,0.515],[-0.575,0.50],[-0.585,0.48],[-0.57,0.465],[-0.58,0.445],[-0.565,0.43],[-0.575,0.41],[-0.56,0.395],[-0.57,0.375],[-0.555,0.36],[-0.565,0.34],[-0.55,0.325],[-0.555,0.305],[-0.54,0.29],[-0.545,0.27],[-0.53,0.255],[-0.535,0.235],[-0.52,0.22],[-0.52,0.20],[-0.505,0.187],[-0.505,0.167],[-0.49,0.154],[-0.49,0.134],[-0.475,0.121],[-0.475,0.101],[-0.46,0.089],[-0.458,0.069],[-0.443,0.057],[-0.44,0.037],[-0.425,0.026],[-0.42,0.006],[-0.405,-0.004],[-0.398,-0.024],[-0.38,-0.032],[-0.372,-0.052],[-0.352,-0.058],[-0.342,-0.077],[-0.322,-0.08],[-0.305,-0.096],[-0.285,-0.094],[-0.265,-0.106],[-0.245,-0.098],[-0.225,-0.106],[-0.205,-0.095],[-0.185,-0.099],[-0.165,-0.085],[-0.145,-0.085],[-0.125,-0.069],[-0.105,-0.066],[-0.09,-0.048],[-0.072,-0.042],[-0.06,-0.022],[-0.048,-0.013],[-0.04,0.00]];
const walk33: Pt[] = [[-0.53,0.85],[-0.55,0.83],[-0.545,0.81],[-0.565,0.795],[-0.575,0.775],[-0.595,0.765],[-0.60,0.745],[-0.62,0.735],[-0.62,0.715],[-0.64,0.70],[-0.645,0.68],[-0.665,0.67],[-0.665,0.65],[-0.685,0.635],[-0.685,0.615],[-0.705,0.60],[-0.70,0.58],[-0.72,0.565],[-0.715,0.545],[-0.735,0.53],[-0.73,0.51],[-0.75,0.495],[-0.75,0.475],[-0.77,0.46],[-0.77,0.44],[-0.79,0.425],[-0.785,0.405],[-0.805,0.39],[-0.80,0.37],[-0.82,0.355],[-0.815,0.335],[-0.835,0.32],[-0.825,0.30],[-0.84,0.285],[-0.825,0.265],[-0.835,0.245],[-0.815,0.233],[-0.825,0.213],[-0.805,0.20],[-0.81,0.18],[-0.79,0.168],[-0.795,0.148],[-0.775,0.137],[-0.775,0.117],[-0.755,0.107],[-0.75,0.087],[-0.73,0.079],[-0.72,0.06],[-0.70,0.054],[-0.69,0.035],[-0.67,0.03],[-0.655,0.012],[-0.635,0.008],[-0.62,-0.01],[-0.60,-0.012],[-0.585,-0.03],[-0.565,-0.03],[-0.548,-0.047],[-0.528,-0.046],[-0.51,-0.062],[-0.49,-0.06],[-0.47,-0.075],[-0.45,-0.071],[-0.43,-0.085],[-0.41,-0.079],[-0.39,-0.092],[-0.37,-0.084],[-0.35,-0.095],[-0.33,-0.085],[-0.31,-0.094],[-0.29,-0.083],[-0.27,-0.09],[-0.25,-0.078],[-0.23,-0.083],[-0.21,-0.07],[-0.19,-0.073],[-0.17,-0.059],[-0.15,-0.06],[-0.13,-0.046],[-0.11,-0.045],[-0.09,-0.031],[-0.075,-0.028],[-0.06,-0.014],[-0.04,0.00]];
const walk34: Pt[] = [[-0.53,0.85],[-0.52,0.83],[-0.535,0.815],[-0.52,0.80],[-0.53,0.78],[-0.51,0.768],[-0.52,0.748],[-0.50,0.735],[-0.51,0.715],[-0.49,0.70],[-0.505,0.68],[-0.485,0.668],[-0.50,0.648],[-0.48,0.635],[-0.495,0.615],[-0.475,0.60],[-0.49,0.58],[-0.47,0.568],[-0.485,0.548],[-0.465,0.535],[-0.475,0.515],[-0.455,0.50],[-0.47,0.48],[-0.45,0.468],[-0.46,0.448],[-0.44,0.435],[-0.45,0.415],[-0.43,0.40],[-0.44,0.38],[-0.42,0.368],[-0.425,0.348],[-0.405,0.338],[-0.405,0.318],[-0.385,0.31],[-0.38,0.29],[-0.36,0.284],[-0.35,0.266],[-0.33,0.262],[-0.32,0.244],[-0.30,0.24],[-0.29,0.222],[-0.27,0.219],[-0.26,0.201],[-0.24,0.198],[-0.23,0.18],[-0.21,0.177],[-0.20,0.159],[-0.18,0.156],[-0.17,0.138],[-0.15,0.134],[-0.14,0.116],[-0.12,0.111],[-0.11,0.093],[-0.095,0.085],[-0.085,0.066],[-0.07,0.057],[-0.062,0.038],[-0.05,0.025],[-0.045,0.012],[-0.04,0.00]];

// Highlighted (blue) random walks
const blueWalk1: Pt[] = [[-0.53,0.85],[-0.55,0.82],[-0.53,0.79],[-0.57,0.77],[-0.56,0.73],[-0.60,0.71],[-0.58,0.67],[-0.61,0.65],[-0.57,0.62],[-0.58,0.58],[-0.54,0.57],[-0.55,0.53],[-0.52,0.51],[-0.56,0.49],[-0.57,0.45],[-0.61,0.44],[-0.60,0.40],[-0.63,0.38],[-0.59,0.35],[-0.60,0.31],[-0.55,0.30],[-0.55,0.26],[-0.50,0.25],[-0.49,0.21],[-0.44,0.21],[-0.43,0.17],[-0.38,0.17],[-0.36,0.13],[-0.31,0.13],[-0.29,0.09],[-0.24,0.10],[-0.22,0.06],[-0.17,0.07],[-0.15,0.03],[-0.10,0.04],[-0.08,0.01],[-0.04,0.00]];
const blueWalk2: Pt[] = [[-0.53,0.85],[-0.50,0.83],[-0.52,0.80],[-0.48,0.78],[-0.51,0.74],[-0.48,0.72],[-0.52,0.69],[-0.51,0.65],[-0.55,0.63],[-0.54,0.59],[-0.58,0.57],[-0.56,0.53],[-0.57,0.49],[-0.53,0.48],[-0.54,0.44],[-0.50,0.42],[-0.51,0.38],[-0.47,0.36],[-0.48,0.32],[-0.43,0.31],[-0.44,0.27],[-0.39,0.25],[-0.39,0.21],[-0.34,0.20],[-0.33,0.16],[-0.28,0.17],[-0.26,0.13],[-0.21,0.15],[-0.18,0.12],[-0.14,0.13],[-0.13,0.09],[-0.10,0.07],[-0.09,0.04],[-0.06,0.02],[-0.04,0.00]];
const blueWalk3: Pt[] = [[-0.53,0.85],[-0.56,0.83],[-0.58,0.80],[-0.61,0.79],[-0.60,0.75],[-0.63,0.73],[-0.62,0.69],[-0.66,0.67],[-0.64,0.63],[-0.67,0.60],[-0.65,0.56],[-0.69,0.54],[-0.67,0.50],[-0.71,0.47],[-0.69,0.43],[-0.72,0.40],[-0.68,0.37],[-0.69,0.33],[-0.64,0.32],[-0.64,0.28],[-0.59,0.27],[-0.58,0.23],[-0.53,0.23],[-0.52,0.19],[-0.47,0.19],[-0.45,0.15],[-0.40,0.15],[-0.38,0.11],[-0.33,0.11],[-0.31,0.07],[-0.26,0.08],[-0.23,0.04],[-0.18,0.05],[-0.15,0.01],[-0.11,0.03],[-0.08,0.00],[-0.04,0.00]];
const blueWalk4: Pt[] = [[-0.57,0.82],[-0.56,0.845],[-0.54,0.84],[-0.53,0.85],[-0.545,0.835],[-0.535,0.815],[-0.555,0.80],[-0.545,0.78],[-0.565,0.765],[-0.555,0.745],[-0.575,0.73],[-0.565,0.71],[-0.585,0.695],[-0.59,0.675],[-0.61,0.665],[-0.61,0.645],[-0.63,0.63],[-0.625,0.61],[-0.645,0.595],[-0.635,0.575],[-0.65,0.56],[-0.635,0.54],[-0.645,0.52],[-0.625,0.505],[-0.63,0.485],[-0.61,0.47],[-0.615,0.45],[-0.595,0.437],[-0.595,0.417],[-0.575,0.405],[-0.57,0.385],[-0.55,0.375],[-0.545,0.355],[-0.525,0.347],[-0.515,0.328],[-0.495,0.322],[-0.485,0.303],[-0.465,0.298],[-0.45,0.28],[-0.43,0.278],[-0.415,0.26],[-0.395,0.26],[-0.38,0.242],[-0.36,0.243],[-0.345,0.225],[-0.325,0.226],[-0.31,0.208],[-0.29,0.21],[-0.275,0.192],[-0.255,0.193],[-0.24,0.175],[-0.22,0.176],[-0.205,0.158],[-0.185,0.158],[-0.17,0.14],[-0.15,0.138],[-0.135,0.12],[-0.115,0.115],[-0.10,0.095],[-0.085,0.085],[-0.07,0.063],[-0.06,0.045],[-0.05,0.025],[-0.04,0.00]];
const blueWalk5: Pt[] = [[-0.53,0.85],[-0.515,0.835],[-0.52,0.815],[-0.50,0.80],[-0.51,0.78],[-0.495,0.765],[-0.505,0.745],[-0.49,0.73],[-0.505,0.71],[-0.50,0.69],[-0.52,0.68],[-0.515,0.66],[-0.535,0.645],[-0.53,0.625],[-0.55,0.61],[-0.545,0.59],[-0.565,0.575],[-0.56,0.555],[-0.58,0.54],[-0.575,0.52],[-0.595,0.505],[-0.585,0.485],[-0.60,0.47],[-0.585,0.45],[-0.59,0.43],[-0.57,0.415],[-0.575,0.395],[-0.555,0.38],[-0.555,0.36],[-0.535,0.35],[-0.53,0.33],[-0.51,0.322],[-0.505,0.302],[-0.485,0.295],[-0.475,0.276],[-0.455,0.27],[-0.445,0.25],[-0.425,0.245],[-0.415,0.226],[-0.395,0.222],[-0.385,0.203],[-0.365,0.2],[-0.352,0.181],[-0.332,0.178],[-0.32,0.16],[-0.30,0.158],[-0.287,0.14],[-0.267,0.138],[-0.253,0.12],[-0.233,0.119],[-0.218,0.101],[-0.198,0.1],[-0.183,0.083],[-0.163,0.082],[-0.148,0.066],[-0.128,0.065],[-0.113,0.049],[-0.095,0.046],[-0.08,0.03],[-0.065,0.025],[-0.052,0.01],[-0.04,0.00]];

const blackWalks = [walk01, walk02, walk03, walk04, walk05, walk06, walk07, walk08, walk09, walk10, walk11, walk12, walk13, walk14, walk15, walk16, walk17, walk18, walk19, walk20, walk21, walk22, walk23, walk24, walk25, walk26, walk27, walk28, walk29, walk30, walk31, walk32, walk33, walk34];
const blueWalks = [blueWalk1, blueWalk2, blueWalk3, blueWalk4, blueWalk5];

// 1 AU circle, every 10 degrees
const oneAuCircle: Pt[] = [[1.000,0.000],[0.985,0.174],[0.940,0.342],[0.866,0.500],[0.766,0.643],[0.643,0.766],[0.500,0.866],[0.342,0.940],[0.174,0.985],[0.000,1.000],[-0.174,0.985],[-0.342,0.940],[-0.500,0.866],[-0.643,0.766],[-0.766,0.643],[-0.866,0.500],[-0.940,0.342],[-0.985,0.174],[-1.000,0.000],[-0.985,-0.174],[-0.940,-0.342],[-0.866,-0.500],[-0.766,-0.643],[-0.643,-0.766],[-0.500,-0.866],[-0.342,-0.940],[-0.174,-0.985],[0.000,-1.000],[0.174,-0.985],[0.342,-0.940],[0.500,-0.866],[0.643,-0.766],[0.766,-0.643],[0.866,-0.500],[0.940,-0.342],[0.985,-0.174],[1.000,0.000]];

// 0.04 AU inner boundary
const innerCircle: Pt[] = [[0.04,0],[0.035,0.02],[0.02,0.035],[0,0.04],[-0.02,0.035],[-0.035,0.02],[-0.04,0],[-0.035,-0.02],[-0.02,-0.035],[0,-0.04],[0.02,-0.035],[0.035,-0.02],[0.04,0]];

// Parker spiral from the inner boundary outward
const parkerSpiral: Pt[] = [[-0.040,0.000],[-0.121,0.011],[-0.200,0.035],[-0.275,0.074],[-0.344,0.125],[-0.406,0.189],[-0.459,0.265],[-0.501,0.351],[-0.531,0.445],[-0.548,0.548],[-0.550,0.656],[-0.538,0.768],[-0.510,0.883],[-0.465,0.998],[-0.404,1.111],[-0.234,1.325],[0.000,1.509],[0.290,1.647],[0.628,1.724],[0.999,1.731],[1.389,1.656],[1.781,1.494],[2.155,1.244]];

const wideTicks = [-2, -1.5, -1, -0.5, 0, 0.5, 1, 1.5, 2];
const zoomXTicks = [-1, -0.8, -0.6, -0.4, -0.2, 0];
const zoomYTicks = [-0.2, 0, 0.2, 0.4, 0.6, 0.8];

const legendLabels = ["Random walk", "1AU radius", "0.04AU radius", "Parker spiral"];

const SERIF = "'DejaVu Serif', 'Liberation Serif', serif";
const SPINE = "#5c5c5c";
const BLUE = "#2f80d8";

const toXY = (pts: Pt[]) => pts.map(([x, y]) => ({ x, y }));
const fmt = (v: number) => (v < 0 ? "\u2212" : "") + Math.abs(v).toFixed(1);
const noDot = () => <g />;

type LegendStyle = { walk: string; inner: string };

const LegendBox = ({ colors }: { colors: LegendStyle }) => {
  const strokes = [
    { stroke: colors.walk, width: 1.2, dash: undefined },
    { stroke: "#ff3030", width: 1, dash: "3 1.6" },
    { stroke: colors.inner, width: 1, dash: undefined },
    { stroke: "#ff0000", width: 2, dash: undefined },
  ];
  return (
    <div
      style={{
        width: 165,
        height: 94,
        boxSizing: "border-box",
        border: "1px solid #d6d6d6",
        borderRadius: 3,
        background: "rgba(255,255,255,0.8)",
        paddingLeft: 5,
        fontFamily: SERIF,
        fontSize: 15,
        color: "#111",
      }}
    >
      {legendLabels.map((label, i) => (
        <div key={label} style={{ display: "flex", alignItems: "center", height: 22.5 }}>
          <svg width={31} height={6} style={{ flex: "none" }}>
            <line x1={0} y1={3} x2={31} y2={3} stroke={strokes[i].stroke} strokeWidth={strokes[i].width} strokeDasharray={strokes[i].dash} />
          </svg>
          <span style={{ marginLeft: 12, whiteSpace: "nowrap" }}>{label}</span>
        </div>
      ))}
    </div>
  );
};

interface PanelProps {
  left: number;
  width: number;
  top: number;
  yAxisWidth: number;
  marginRight: number;
  xDomain: [number, number];
  yDomain: [number, number];
  xTicks: number[];
  yTicks: number[];
  legendLeft: number;
  walkWidth: number;
  legendColors: LegendStyle;
}

const Panel = (p: PanelProps) => {
  const tickStyle = { fontFamily: SERIF, fontSize: 14, fill: "#111" };
  return (
    <div style={{ position: "absolute", left: p.left, top: 0 }}>
      <ScatterChart width={p.width} height={550} margin={{ top: p.top, right: p.marginRight, bottom: 38, left: 0 }}>
        <XAxis
          type="number"
          dataKey="x"
          domain={p.xDomain}
          allowDataOverflow
          ticks={p.xTicks}
          interval={0}
          tickFormatter={fmt}
          tick={tickStyle}
          tickSize={-8}
          tickMargin={13}
          tickLine={{ stroke: SPINE }}
          axisLine={false}
          height={36}
          label={{ value: "x (AU)", position: "insideBottom", offset: 5, fontFamily: SERIF, fontSize: 15, fill: "#111" }}
        />
        <YAxis
          type="number"
          dataKey="y"
          domain={p.yDomain}
          allowDataOverflow
          ticks={p.yTicks}
          interval={0}
          tickFormatter={fmt}
          tick={tickStyle}
          tickSize={-8}
          tickMargin={12}
          tickLine={{ stroke: SPINE }}
          axisLine={false}
          width={p.yAxisWidth}
          label={{
            value: "y (AU)",
            angle: -90,
            position: "insideLeft",
            offset: 18,
            fontFamily: SERIF,
            fontSize: 15,
            fill: "#111",
            style: { textAnchor: "middle" },
          }}
        />
        {blackWalks.map((w, i) => (
          <Scatter
            key={`k${i}`}
            data={toXY(w)}
            fill="#000"
            line={{ stroke: "#000", strokeWidth: p.walkWidth, strokeOpacity: 0.9 }}
            lineJointType="linear"
            shape={noDot}
            isAnimationActive={false}
          />
        ))}
        {blueWalks.map((w, i) => (
          <Scatter
            key={`b${i}`}
            data={toXY(w)}
            fill={BLUE}
            line={{ stroke: BLUE, strokeWidth: p.walkWidth * 0.9 }}
            lineJointType="linear"
            shape={noDot}
            isAnimationActive={false}
          />
        ))}
        <Scatter
          data={toXY(oneAuCircle)}
          fill="#ff2a2a"
          line={{ stroke: "#ff2a2a", strokeWidth: 0.8, strokeDasharray: "3 1.6" }}
          lineJointType="natural"
          shape={noDot}
          isAnimationActive={false}
        />
        <Scatter
          data={toXY(innerCircle)}
          fill="#f28a8a"
          line={{ stroke: "#f28a8a", strokeWidth: 0.8 }}
          lineJointType="natural"
          shape={noDot}
          isAnimationActive={false}
        />
        <Scatter
          data={toXY(parkerSpiral)}
          fill="#ff0000"
          line={{ stroke: "#ff0000", strokeWidth: 2 }}
          lineJointType="natural"
          shape={noDot}
          isAnimationActive={false}
        />
        <ReferenceArea
          x1={p.xDomain[0]}
          x2={p.xDomain[1]}
          y1={p.yDomain[0]}
          y2={p.yDomain[1]}
          fill="none"
          stroke={SPINE}
          strokeWidth={1}
          fillOpacity={0}
        />
        <Legend
          layout="vertical"
          align="center"
          verticalAlign="middle"
          wrapperStyle={{ left: p.legendLeft, top: 374, width: 165, height: 94 }}
          content={() => <LegendBox colors={p.legendColors} />}
        />
      </ScatterChart>
    </div>
  );
};

export default function App() {
  return (
    <div style={{ position: "absolute", left: 0, top: 0, width: 1014, height: 550, background: "#fff", overflow: "hidden" }}>
      <div style={{ position: "absolute", left: 6, top: 7, fontFamily: SERIF, fontSize: 18, lineHeight: "18px", color: "#111" }}>16</div>
      <Panel
        left={0}
        width={505}
        top={54}
        yAxisWidth={68}
        marginRight={17}
        xDomain={[-2, 2]}
        yDomain={[-2, 2]}
        xTicks={wideTicks}
        yTicks={wideTicks}
        legendLeft={75}
        walkWidth={1.2}
        legendColors={{ walk: "#b9dcf7", inner: "#f5a8a8" }}
      />
      <Panel
        left={510}
        width={504}
        top={55}
        yAxisWidth={65}
        marginRight={18}
        xDomain={[-1.1, 0]}
        yDomain={[-0.21, 0.9]}
        xTicks={zoomXTicks}
        yTicks={zoomYTicks}
        legendLeft={72}
        walkWidth={1.4}
        legendColors={{ walk: "#8cc6f2", inner: "#f08a8a" }}
      />
    </div>
  );
}
